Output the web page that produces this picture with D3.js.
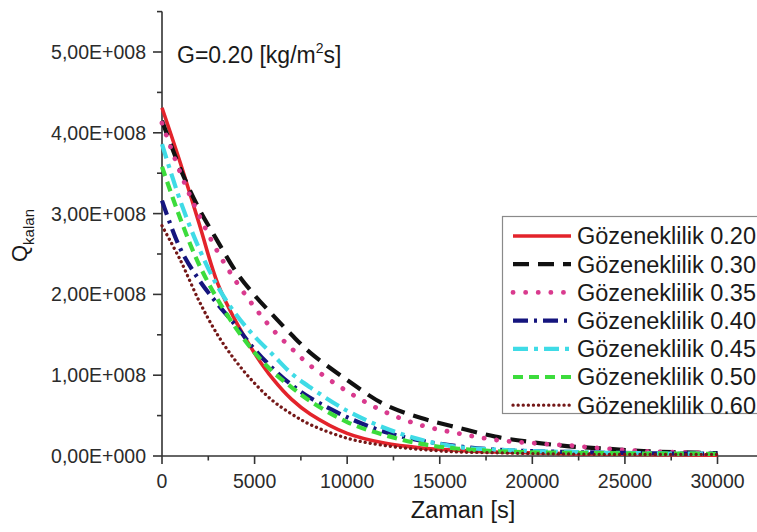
<!DOCTYPE html>
<html>
<head>
<meta charset="utf-8">
<script src="https://cdn.jsdelivr.net/npm/d3@7/dist/d3.min.js"></script>
<style>
  html, body { margin: 0; padding: 0; background: #fff; }
  svg { display: block; font-family: "Liberation Sans", Arial, sans-serif; }
</style>
</head>
<body>
<svg id="chart" width="757" height="532"></svg>
<script>
// Time samples [s]
const times = [0, 1000, 2000, 3000, 4000, 5000, 6000, 7000, 8000, 10000, 12000, 14000, 16000, 18000, 20000, 22000, 24000, 26000, 28000, 30000];

// Remaining heat Q_kalan for each porosity (same time samples)
const q020 = [4.31e8, 3.62e8, 2.88e8, 2.14e8, 1.66e8, 1.27e8, 0.95e8, 0.70e8, 0.52e8, 0.28e8, 0.16e8, 0.10e8, 0.07e8, 0.05e8, 0.04e8, 0.03e8, 0.025e8, 0.02e8, 0.015e8, 0.01e8];
const q030 = [4.15e8, 3.55e8, 3.06e8, 2.66e8, 2.28e8, 1.99e8, 1.74e8, 1.50e8, 1.28e8, 0.94e8, 0.64e8, 0.47e8, 0.35e8, 0.24e8, 0.17e8, 0.12e8, 0.09e8, 0.06e8, 0.045e8, 0.035e8];
const q035 = [4.12e8, 3.50e8, 2.98e8, 2.53e8, 2.16e8, 1.84e8, 1.56e8, 1.33e8, 1.12e8, 0.80e8, 0.55e8, 0.38e8, 0.28e8, 0.20e8, 0.16e8, 0.13e8, 0.09e8, 0.06e8, 0.045e8, 0.035e8];
const q040 = [3.16e8, 2.56e8, 2.18e8, 1.88e8, 1.61e8, 1.32e8, 1.08e8, 0.88e8, 0.72e8, 0.48e8, 0.30e8, 0.19e8, 0.12e8, 0.08e8, 0.06e8, 0.05e8, 0.04e8, 0.035e8, 0.03e8, 0.03e8];
const q045 = [3.86e8, 3.15e8, 2.57e8, 2.10e8, 1.75e8, 1.48e8, 1.25e8, 1.02e8, 0.85e8, 0.56e8, 0.35e8, 0.20e8, 0.11e8, 0.08e8, 0.06e8, 0.05e8, 0.04e8, 0.035e8, 0.03e8, 0.03e8];
const q050 = [3.58e8, 2.93e8, 2.37e8, 1.94e8, 1.58e8, 1.28e8, 1.04e8, 0.85e8, 0.68e8, 0.42e8, 0.26e8, 0.15e8, 0.09e8, 0.06e8, 0.045e8, 0.04e8, 0.035e8, 0.03e8, 0.03e8, 0.025e8];
const q060 = [2.85e8, 2.42e8, 1.92e8, 1.50e8, 1.17e8, 0.90e8, 0.68e8, 0.52e8, 0.39e8, 0.22e8, 0.13e8, 0.08e8, 0.05e8, 0.04e8, 0.03e8, 0.025e8, 0.02e8, 0.02e8, 0.02e8, 0.02e8];

const seriesNames = ["Gözeneklilik 0.20", "Gözeneklilik 0.30", "Gözeneklilik 0.35", "Gözeneklilik 0.40", "Gözeneklilik 0.45", "Gözeneklilik 0.50", "Gözeneklilik 0.60"];
const seriesValues = [q020, q030, q035, q040, q045, q050, q060];

// Axis ticks
const xTicks = [0, 5000, 10000, 15000, 20000, 25000, 30000];
const yTicks = [0, 1e8, 2e8, 3e8, 4e8, 5e8];

const titleText = "G=0.20 [kg/m";
const xTitle = "Zaman [s]";

// Line styling per series
const styles = [
  { color: "#e3232b", width: 3.6, dash: null, cap: "butt" },
  { color: "#111111", width: 4.2, dash: "16 9", cap: "butt" },
  { color: "#d93a8e", width: 4.8, dash: "0.1 12.5", cap: "round" },
  { color: "#15157e", width: 4.2, dash: "15 6 3 6", cap: "butt" },
  { color: "#3fdbe6", width: 4.2, dash: "15 6 4 6", cap: "butt" },
  { color: "#3cdc3c", width: 4.2, dash: "10 6", cap: "butt" },
  { color: "#741818", width: 3.3, dash: "0.1 5", cap: "round" }
];

const svg = d3.select("#chart");
const axisColor = "#333";
const textColor = "#2b2b2b";

const x = d3.scaleLinear().domain([0, 30000]).range([162, 717.5]);
const y = d3.scaleLinear().domain([0, 5.5e8]).range([456, 11.6]);

// Axes lines
svg.append("line").attr("x1", 162).attr("x2", 757).attr("y1", y(0)).attr("y2", y(0))
  .attr("stroke", axisColor).attr("stroke-width", 1.6);
svg.append("line").attr("x1", x(0)).attr("x2", x(0)).attr("y1", y(0)).attr("y2", y(5.5e8))
  .attr("stroke", axisColor).attr("stroke-width", 1.6);

// Y ticks: major with labels, minor at half steps
const yMinor = d3.range(0.5e8, 5.6e8, 1e8);
svg.selectAll(".ymaj").data(yTicks).join("line")
  .attr("x1", 153).attr("x2", 162).attr("y1", d => y(d)).attr("y2", d => y(d))
  .attr("stroke", axisColor).attr("stroke-width", 1.6);
svg.selectAll(".ymin").data(yMinor).join("line")
  .attr("x1", 157).attr("x2", 162).attr("y1", d => y(d)).attr("y2", d => y(d))
  .attr("stroke", axisColor).attr("stroke-width", 1.6);
const fmtY = v => v === 0 ? "0,00E+000" : (v / 1e8).toFixed(2).replace(".", ",") + "E+008";
svg.selectAll(".ylab").data(yTicks).join("text")
  .attr("x", 146).attr("y", d => y(d)).attr("dy", "0.36em")
  .attr("text-anchor", "end").attr("font-size", 19.5).attr("fill", textColor)
  .text(fmtY);

// X ticks
const xMinor = d3.range(2500, 31000, 5000);
svg.selectAll(".xmaj").data(xTicks).join("line")
  .attr("x1", d => x(d)).attr("x2", d => x(d)).attr("y1", y(0)).attr("y2", y(0) + 8)
  .attr("stroke", axisColor).attr("stroke-width", 1.6);
svg.selectAll(".xmin").data(xMinor).join("line")
  .attr("x1", d => x(d)).attr("x2", d => x(d)).attr("y1", y(0)).attr("y2", y(0) + 4.5)
  .attr("stroke", axisColor).attr("stroke-width", 1.6);
svg.selectAll(".xlab").data(xTicks).join("text")
  .attr("x", d => x(d)).attr("y", 488)
  .attr("text-anchor", "middle").attr("font-size", 19.5).attr("fill", textColor)
  .text(d => String(d));

// Axis titles
svg.append("text").attr("x", 463).attr("y", 518).attr("text-anchor", "middle")
  .attr("font-size", 23.5).attr("fill", "#1a1a1a").text(xTitle);

const yt = svg.append("text").attr("transform", "translate(27,262) rotate(-90)")
  .attr("font-size", 22).attr("fill", "#1a1a1a");
yt.append("tspan").text("Q");
yt.append("tspan").attr("font-size", 15).attr("dy", 7).text("kalan");

// Annotation
const ann = svg.append("text").attr("x", 177).attr("y", 63).attr("font-size", 23).attr("fill", "#1a1a1a");
ann.append("tspan").text(titleText);
ann.append("tspan").attr("font-size", 14).attr("dy", -10).text("2");
ann.append("tspan").attr("dy", 10).text("s]");

// Curves
const line = d3.line().x((d, i) => x(times[i])).y(d => y(d)).curve(d3.curveCatmullRom.alpha(0.5));
seriesValues.forEach((vals, k) => {
  const s = styles[k];
  svg.append("path").datum(vals).attr("d", line)
    .attr("fill", "none").attr("stroke", s.color).attr("stroke-width", s.width)
    .attr("stroke-linecap", s.cap).attr("stroke-linejoin", "round")
    .attr("stroke-dasharray", s.dash);
});

// Legend
const lg = svg.append("g");
lg.append("rect").attr("x", 502.5).attr("y", 216.5).attr("width", 280).attr("height", 197)
  .attr("fill", "#fff").attr("stroke", "#8a8a8a").attr("stroke-width", 1.2);
seriesNames.forEach((name, k) => {
  const s = styles[k];
  const cy = 236 + k * 28.2;
  lg.append("line").attr("x1", 513).attr("x2", 571).attr("y1", cy).attr("y2", cy)
    .attr("stroke", s.color).attr("stroke-width", s.width)
    .attr("stroke-linecap", s.cap).attr("stroke-dasharray", s.dash);
  lg.append("text").attr("x", 577).attr("y", cy).attr("dy", "0.36em")
    .attr("font-size", 23.5).attr("fill", "#1a1a1a").text(name);
});
</script>
</body>
</html>
